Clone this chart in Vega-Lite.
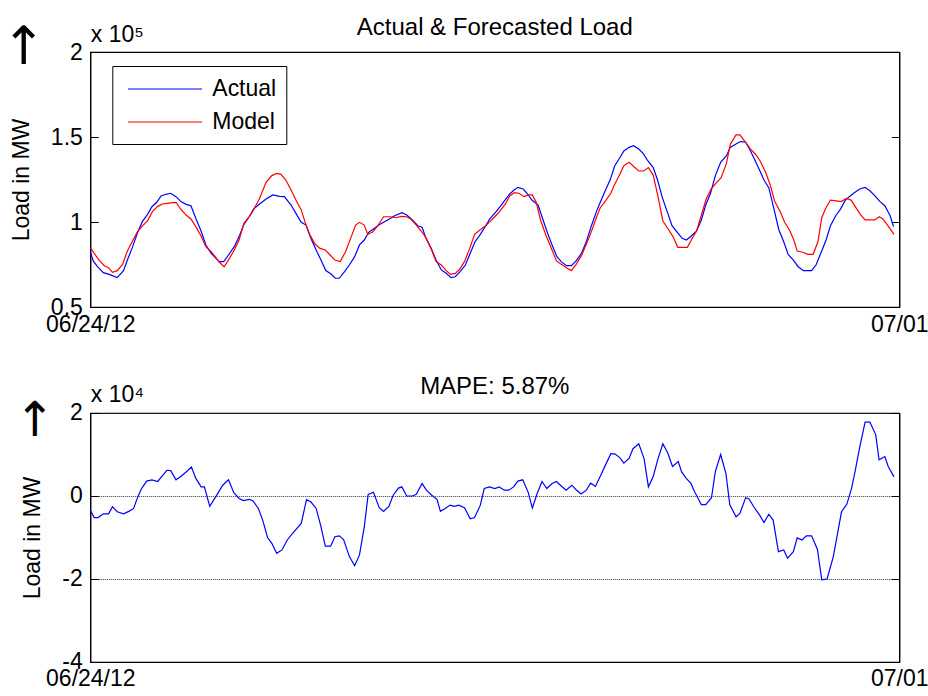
{
  "$schema": "https://vega.github.io/schema/vega-lite/v6.json",
  "background": "white",
  "padding": {"left": 0.3, "top": 15, "right": 0, "bottom": 0},
  "bounds": "flush",
  "config": {
    "font": "Liberation Sans",
    "view": {"stroke": "black", "strokeWidth": 1.2},
    "axis": {"labelFont": "Liberation Sans", "labelFontSize": 23, "labelColor": "black", "titleFont": "Liberation Sans", "titleFontSize": 23, "titleFontWeight": "normal", "titleColor": "black", "domainColor": "black", "tickColor": "black", "grid": false, "labelFlush": false, "labelOverlap": false},
    "title": {"font": "Liberation Sans", "fontSize": 24, "fontWeight": "normal", "color": "black"},
    "concat": {"spacing": 106}
  },
  "datasets": {
    "load": [
      {"t":0,"mw":82500,"series":"Actual"},{"t":0.6,"mw":77100,"series":"Actual"},{"t":1.5,"mw":73700,"series":"Actual"},{"t":2.7,"mw":70200,"series":"Actual"},{"t":3.9,"mw":69200,"series":"Actual"},{"t":5.6,"mw":67300,"series":"Actual"},{"t":6.9,"mw":71400,"series":"Actual"},{"t":7.7,"mw":77600,"series":"Actual"},{"t":8.8,"mw":85500,"series":"Actual"},{"t":9.8,"mw":93700,"series":"Actual"},{"t":10.8,"mw":100200,"series":"Actual"},{"t":11.9,"mw":104500,"series":"Actual"},{"t":12.8,"mw":109000,"series":"Actual"},{"t":13.8,"mw":111600,"series":"Actual"},{"t":14.7,"mw":115300,"series":"Actual"},{"t":15.7,"mw":116300,"series":"Actual"},{"t":16.7,"mw":116900,"series":"Actual"},{"t":17.8,"mw":114900,"series":"Actual"},{"t":18.8,"mw":112000,"series":"Actual"},{"t":19.9,"mw":110400,"series":"Actual"},{"t":20.9,"mw":109600,"series":"Actual"},{"t":21.9,"mw":102200,"series":"Actual"},{"t":23.0,"mw":94700,"series":"Actual"},{"t":24.0,"mw":86500,"series":"Actual"},{"t":25.1,"mw":81600,"series":"Actual"},{"t":26.1,"mw":78600,"series":"Actual"},{"t":26.8,"mw":76700,"series":"Actual"},{"t":27.7,"mw":76700,"series":"Actual"},{"t":28.7,"mw":80600,"series":"Actual"},{"t":29.9,"mw":85500,"series":"Actual"},{"t":30.9,"mw":91400,"series":"Actual"},{"t":31.9,"mw":98600,"series":"Actual"},{"t":33.0,"mw":103100,"series":"Actual"},{"t":34.0,"mw":108000,"series":"Actual"},{"t":35.1,"mw":110400,"series":"Actual"},{"t":36.5,"mw":113500,"series":"Actual"},{"t":37.9,"mw":115900,"series":"Actual"},{"t":39.3,"mw":115100,"series":"Actual"},{"t":40.3,"mw":114900,"series":"Actual"},{"t":41.7,"mw":110000,"series":"Actual"},{"t":42.7,"mw":105100,"series":"Actual"},{"t":43.8,"mw":99800,"series":"Actual"},{"t":44.8,"mw":98200,"series":"Actual"},{"t":45.8,"mw":90400,"series":"Actual"},{"t":46.9,"mw":83500,"series":"Actual"},{"t":47.9,"mw":77600,"series":"Actual"},{"t":48.9,"mw":71400,"series":"Actual"},{"t":50.0,"mw":69400,"series":"Actual"},{"t":50.9,"mw":66900,"series":"Actual"},{"t":51.7,"mw":66900,"series":"Actual"},{"t":52.8,"mw":70800,"series":"Actual"},{"t":53.8,"mw":74700,"series":"Actual"},{"t":54.9,"mw":79600,"series":"Actual"},{"t":55.9,"mw":86500,"series":"Actual"},{"t":56.9,"mw":89400,"series":"Actual"},{"t":57.8,"mw":93900,"series":"Actual"},{"t":58.8,"mw":95900,"series":"Actual"},{"t":59.9,"mw":98200,"series":"Actual"},{"t":61.1,"mw":100200,"series":"Actual"},{"t":62.1,"mw":101800,"series":"Actual"},{"t":63.1,"mw":103500,"series":"Actual"},{"t":64.7,"mw":105500,"series":"Actual"},{"t":65.7,"mw":104100,"series":"Actual"},{"t":66.9,"mw":101200,"series":"Actual"},{"t":68.0,"mw":97800,"series":"Actual"},{"t":68.9,"mw":96900,"series":"Actual"},{"t":69.7,"mw":90400,"series":"Actual"},{"t":70.8,"mw":84500,"series":"Actual"},{"t":71.8,"mw":77600,"series":"Actual"},{"t":72.9,"mw":71800,"series":"Actual"},{"t":73.9,"mw":69800,"series":"Actual"},{"t":74.9,"mw":67300,"series":"Actual"},{"t":75.8,"mw":67800,"series":"Actual"},{"t":76.8,"mw":70800,"series":"Actual"},{"t":77.9,"mw":74700,"series":"Actual"},{"t":78.9,"mw":81600,"series":"Actual"},{"t":79.9,"mw":88400,"series":"Actual"},{"t":81.0,"mw":92700,"series":"Actual"},{"t":82.0,"mw":97300,"series":"Actual"},{"t":83.0,"mw":102000,"series":"Actual"},{"t":84.1,"mw":105500,"series":"Actual"},{"t":85.1,"mw":109000,"series":"Actual"},{"t":86.0,"mw":112400,"series":"Actual"},{"t":87.1,"mw":116500,"series":"Actual"},{"t":88.0,"mw":118800,"series":"Actual"},{"t":88.8,"mw":120400,"series":"Actual"},{"t":89.9,"mw":119400,"series":"Actual"},{"t":90.7,"mw":116900,"series":"Actual"},{"t":91.7,"mw":112900,"series":"Actual"},{"t":93.0,"mw":110000,"series":"Actual"},{"t":93.9,"mw":102200,"series":"Actual"},{"t":94.9,"mw":93900,"series":"Actual"},{"t":95.9,"mw":86500,"series":"Actual"},{"t":96.9,"mw":79600,"series":"Actual"},{"t":97.8,"mw":76700,"series":"Actual"},{"t":98.9,"mw":74300,"series":"Actual"},{"t":99.9,"mw":74300,"series":"Actual"},{"t":100.9,"mw":77100,"series":"Actual"},{"t":102.0,"mw":81600,"series":"Actual"},{"t":103.0,"mw":88400,"series":"Actual"},{"t":104.0,"mw":97300,"series":"Actual"},{"t":105.1,"mw":106100,"series":"Actual"},{"t":106.1,"mw":112900,"series":"Actual"},{"t":107.0,"mw":118800,"series":"Actual"},{"t":108.0,"mw":125100,"series":"Actual"},{"t":108.9,"mw":133100,"series":"Actual"},{"t":109.9,"mw":137500,"series":"Actual"},{"t":110.8,"mw":141800,"series":"Actual"},{"t":111.9,"mw":143900,"series":"Actual"},{"t":112.8,"mw":144900,"series":"Actual"},{"t":113.9,"mw":142900,"series":"Actual"},{"t":114.8,"mw":140400,"series":"Actual"},{"t":115.8,"mw":135900,"series":"Actual"},{"t":116.9,"mw":132000,"series":"Actual"},{"t":117.8,"mw":124700,"series":"Actual"},{"t":118.8,"mw":114300,"series":"Actual"},{"t":119.8,"mw":106100,"series":"Actual"},{"t":120.8,"mw":97800,"series":"Actual"},{"t":121.9,"mw":93900,"series":"Actual"},{"t":122.9,"mw":90400,"series":"Actual"},{"t":123.8,"mw":89400,"series":"Actual"},{"t":124.8,"mw":91800,"series":"Actual"},{"t":125.9,"mw":94700,"series":"Actual"},{"t":126.9,"mw":101200,"series":"Actual"},{"t":127.8,"mw":110000,"series":"Actual"},{"t":128.8,"mw":116900,"series":"Actual"},{"t":129.8,"mw":127300,"series":"Actual"},{"t":130.9,"mw":135100,"series":"Actual"},{"t":132.1,"mw":139000,"series":"Actual"},{"t":132.9,"mw":143900,"series":"Actual"},{"t":134.0,"mw":145700,"series":"Actual"},{"t":135.0,"mw":147300,"series":"Actual"},{"t":136.1,"mw":146900,"series":"Actual"},{"t":137.0,"mw":142400,"series":"Actual"},{"t":138.0,"mw":136500,"series":"Actual"},{"t":138.9,"mw":131000,"series":"Actual"},{"t":139.9,"mw":124700,"series":"Actual"},{"t":140.9,"mw":120200,"series":"Actual"},{"t":141.9,"mw":108400,"series":"Actual"},{"t":143.0,"mw":95300,"series":"Actual"},{"t":144.0,"mw":88400,"series":"Actual"},{"t":144.9,"mw":81000,"series":"Actual"},{"t":146.0,"mw":77600,"series":"Actual"},{"t":147.0,"mw":73700,"series":"Actual"},{"t":148.1,"mw":71400,"series":"Actual"},{"t":149.8,"mw":71400,"series":"Actual"},{"t":150.7,"mw":74700,"series":"Actual"},{"t":151.7,"mw":81600,"series":"Actual"},{"t":152.8,"mw":89400,"series":"Actual"},{"t":153.7,"mw":97800,"series":"Actual"},{"t":154.8,"mw":103700,"series":"Actual"},{"t":155.8,"mw":107600,"series":"Actual"},{"t":156.7,"mw":112400,"series":"Actual"},{"t":157.6,"mw":114900,"series":"Actual"},{"t":158.8,"mw":117500,"series":"Actual"},{"t":159.8,"mw":119400,"series":"Actual"},{"t":160.9,"mw":120400,"series":"Actual"},{"t":161.9,"mw":118400,"series":"Actual"},{"t":162.9,"mw":115500,"series":"Actual"},{"t":164.0,"mw":112000,"series":"Actual"},{"t":165.0,"mw":109600,"series":"Actual"},{"t":166.1,"mw":103700,"series":"Actual"},{"t":166.8,"mw":97300,"series":"Actual"},
      {"t":0,"mw":84900,"series":"Model"},{"t":0.8,"mw":81600,"series":"Model"},{"t":1.8,"mw":77600,"series":"Model"},{"t":2.9,"mw":74300,"series":"Model"},{"t":3.8,"mw":73100,"series":"Model"},{"t":4.6,"mw":70400,"series":"Model"},{"t":5.6,"mw":71400,"series":"Model"},{"t":6.7,"mw":75100,"series":"Model"},{"t":7.7,"mw":82900,"series":"Model"},{"t":8.8,"mw":89000,"series":"Model"},{"t":9.8,"mw":94300,"series":"Model"},{"t":10.8,"mw":97600,"series":"Model"},{"t":11.9,"mw":100800,"series":"Model"},{"t":12.9,"mw":106100,"series":"Model"},{"t":14.0,"mw":109200,"series":"Model"},{"t":15.0,"mw":110600,"series":"Model"},{"t":16.0,"mw":111000,"series":"Model"},{"t":17.0,"mw":111400,"series":"Model"},{"t":17.8,"mw":111600,"series":"Model"},{"t":18.8,"mw":107500,"series":"Model"},{"t":19.9,"mw":104100,"series":"Model"},{"t":20.9,"mw":101800,"series":"Model"},{"t":21.9,"mw":97300,"series":"Model"},{"t":23.0,"mw":91800,"series":"Model"},{"t":24.0,"mw":85500,"series":"Model"},{"t":25.1,"mw":82500,"series":"Model"},{"t":26.1,"mw":79000,"series":"Model"},{"t":26.8,"mw":76300,"series":"Model"},{"t":27.8,"mw":73700,"series":"Model"},{"t":28.9,"mw":78600,"series":"Model"},{"t":29.9,"mw":83500,"series":"Model"},{"t":30.9,"mw":89400,"series":"Model"},{"t":31.9,"mw":99200,"series":"Model"},{"t":33.0,"mw":103100,"series":"Model"},{"t":33.7,"mw":106100,"series":"Model"},{"t":35.1,"mw":113500,"series":"Model"},{"t":36.5,"mw":123300,"series":"Model"},{"t":37.7,"mw":127300,"series":"Model"},{"t":38.7,"mw":128600,"series":"Model"},{"t":39.6,"mw":128000,"series":"Model"},{"t":40.6,"mw":124700,"series":"Model"},{"t":41.7,"mw":118800,"series":"Model"},{"t":42.7,"mw":112900,"series":"Model"},{"t":43.8,"mw":107100,"series":"Model"},{"t":44.8,"mw":98200,"series":"Model"},{"t":45.6,"mw":92400,"series":"Model"},{"t":46.7,"mw":86900,"series":"Model"},{"t":47.7,"mw":84500,"series":"Model"},{"t":48.8,"mw":83500,"series":"Model"},{"t":49.8,"mw":80600,"series":"Model"},{"t":50.8,"mw":77600,"series":"Model"},{"t":51.9,"mw":76700,"series":"Model"},{"t":53.0,"mw":82500,"series":"Model"},{"t":54.2,"mw":91400,"series":"Model"},{"t":55.1,"mw":98200,"series":"Model"},{"t":55.9,"mw":99800,"series":"Model"},{"t":56.9,"mw":98200,"series":"Model"},{"t":57.6,"mw":92700,"series":"Model"},{"t":58.7,"mw":94300,"series":"Model"},{"t":59.7,"mw":97800,"series":"Model"},{"t":60.9,"mw":103100,"series":"Model"},{"t":62.1,"mw":103100,"series":"Model"},{"t":63.5,"mw":102500,"series":"Model"},{"t":64.5,"mw":103300,"series":"Model"},{"t":65.7,"mw":103100,"series":"Model"},{"t":66.6,"mw":101600,"series":"Model"},{"t":67.7,"mw":98200,"series":"Model"},{"t":68.7,"mw":94700,"series":"Model"},{"t":69.7,"mw":90800,"series":"Model"},{"t":70.8,"mw":84100,"series":"Model"},{"t":71.8,"mw":76700,"series":"Model"},{"t":72.9,"mw":74700,"series":"Model"},{"t":73.9,"mw":71400,"series":"Model"},{"t":74.8,"mw":69200,"series":"Model"},{"t":75.8,"mw":69800,"series":"Model"},{"t":76.7,"mw":72200,"series":"Model"},{"t":77.7,"mw":76700,"series":"Model"},{"t":78.8,"mw":84500,"series":"Model"},{"t":79.8,"mw":92700,"series":"Model"},{"t":80.9,"mw":95300,"series":"Model"},{"t":81.9,"mw":97300,"series":"Model"},{"t":83.0,"mw":100200,"series":"Model"},{"t":84.1,"mw":103400,"series":"Model"},{"t":85.1,"mw":106500,"series":"Model"},{"t":86.2,"mw":110600,"series":"Model"},{"t":87.1,"mw":115300,"series":"Model"},{"t":88.1,"mw":117300,"series":"Model"},{"t":89.0,"mw":116900,"series":"Model"},{"t":90.1,"mw":114900,"series":"Model"},{"t":90.9,"mw":115900,"series":"Model"},{"t":91.8,"mw":115900,"series":"Model"},{"t":92.6,"mw":111600,"series":"Model"},{"t":93.5,"mw":101200,"series":"Model"},{"t":94.6,"mw":92400,"series":"Model"},{"t":95.7,"mw":84900,"series":"Model"},{"t":96.8,"mw":77100,"series":"Model"},{"t":97.8,"mw":75100,"series":"Model"},{"t":98.9,"mw":73100,"series":"Model"},{"t":99.9,"mw":71400,"series":"Model"},{"t":100.9,"mw":75100,"series":"Model"},{"t":102.0,"mw":80200,"series":"Model"},{"t":103.0,"mw":86900,"series":"Model"},{"t":104.0,"mw":93900,"series":"Model"},{"t":104.9,"mw":101200,"series":"Model"},{"t":105.9,"mw":108400,"series":"Model"},{"t":107.0,"mw":112400,"series":"Model"},{"t":108.1,"mw":116900,"series":"Model"},{"t":108.9,"mw":122200,"series":"Model"},{"t":109.9,"mw":127600,"series":"Model"},{"t":110.8,"mw":133100,"series":"Model"},{"t":111.9,"mw":135100,"series":"Model"},{"t":112.9,"mw":132500,"series":"Model"},{"t":113.9,"mw":130000,"series":"Model"},{"t":114.9,"mw":130000,"series":"Model"},{"t":115.9,"mw":132000,"series":"Model"},{"t":116.9,"mw":127600,"series":"Model"},{"t":117.9,"mw":114900,"series":"Model"},{"t":118.9,"mw":100600,"series":"Model"},{"t":120.0,"mw":95900,"series":"Model"},{"t":121.0,"mw":91400,"series":"Model"},{"t":122.0,"mw":85100,"series":"Model"},{"t":123.1,"mw":85100,"series":"Model"},{"t":124.0,"mw":85100,"series":"Model"},{"t":124.8,"mw":89400,"series":"Model"},{"t":125.9,"mw":94700,"series":"Model"},{"t":126.9,"mw":104100,"series":"Model"},{"t":127.9,"mw":113500,"series":"Model"},{"t":128.9,"mw":119400,"series":"Model"},{"t":129.9,"mw":122700,"series":"Model"},{"t":131.0,"mw":126100,"series":"Model"},{"t":132.1,"mw":134500,"series":"Model"},{"t":132.9,"mw":145700,"series":"Model"},{"t":134.1,"mw":151200,"series":"Model"},{"t":134.9,"mw":151200,"series":"Model"},{"t":136.1,"mw":146900,"series":"Model"},{"t":137.1,"mw":142900,"series":"Model"},{"t":138.1,"mw":140000,"series":"Model"},{"t":139.1,"mw":135900,"series":"Model"},{"t":140.2,"mw":129600,"series":"Model"},{"t":141.2,"mw":121800,"series":"Model"},{"t":142.1,"mw":112400,"series":"Model"},{"t":143.2,"mw":106500,"series":"Model"},{"t":144.2,"mw":99800,"series":"Model"},{"t":145.3,"mw":94700,"series":"Model"},{"t":146.1,"mw":89400,"series":"Model"},{"t":146.8,"mw":82900,"series":"Model"},{"t":148.0,"mw":82200,"series":"Model"},{"t":149.0,"mw":81000,"series":"Model"},{"t":150.1,"mw":81000,"series":"Model"},{"t":151.1,"mw":88400,"series":"Model"},{"t":151.9,"mw":102500,"series":"Model"},{"t":152.7,"mw":108000,"series":"Model"},{"t":153.7,"mw":112900,"series":"Model"},{"t":154.9,"mw":112400,"series":"Model"},{"t":155.9,"mw":112000,"series":"Model"},{"t":157.0,"mw":113900,"series":"Model"},{"t":158.0,"mw":112900,"series":"Model"},{"t":159.1,"mw":108000,"series":"Model"},{"t":159.9,"mw":104500,"series":"Model"},{"t":160.9,"mw":101200,"series":"Model"},{"t":161.9,"mw":101200,"series":"Model"},{"t":162.9,"mw":101200,"series":"Model"},{"t":163.8,"mw":103100,"series":"Model"},{"t":164.6,"mw":101800,"series":"Model"},{"t":165.7,"mw":97600,"series":"Model"},{"t":166.9,"mw":92700,"series":"Model"}
    ],
    "err": [
      {"t":0,"e":-3400},{"t":0.8,"e":-5200},{"t":1.6,"e":-5200},{"t":2.7,"e":-4300},{"t":3.8,"e":-4300},{"t":4.6,"e":-2600},{"t":5.6,"e":-3800},{"t":6.9,"e":-4300},{"t":8.0,"e":-3700},{"t":9.0,"e":-3000},{"t":9.8,"e":-400},{"t":10.6,"e":1700},{"t":11.7,"e":3600},{"t":12.8,"e":3900},{"t":14.0,"e":3500},{"t":14.9,"e":4800},{"t":15.9,"e":6200},{"t":16.7,"e":6100},{"t":17.8,"e":3900},{"t":18.8,"e":4700},{"t":19.9,"e":5800},{"t":21.0,"e":7000},{"t":21.9,"e":4300},{"t":23.0,"e":2200},{"t":23.7,"e":2200},{"t":24.8,"e":-2500},{"t":26.1,"e":-100},{"t":27.5,"e":2600},{"t":28.7,"e":3900},{"t":29.8,"e":800},{"t":30.9,"e":-600},{"t":31.8,"e":-1100},{"t":33.0,"e":-800},{"t":33.8,"e":-1200},{"t":34.9,"e":-3000},{"t":35.8,"e":-5800},{"t":36.8,"e":-10000},{"t":37.7,"e":-11400},{"t":38.7,"e":-13800},{"t":39.8,"e":-13000},{"t":40.9,"e":-10600},{"t":42.0,"e":-9000},{"t":43.8,"e":-6600},{"t":44.9,"e":-900},{"t":45.8,"e":-1400},{"t":46.9,"e":-3000},{"t":47.9,"e":-7400},{"t":48.8,"e":-12100},{"t":49.9,"e":-12100},{"t":50.8,"e":-9800},{"t":51.7,"e":-9600},{"t":52.6,"e":-10500},{"t":53.8,"e":-14600},{"t":54.9,"e":-16800},{"t":55.9,"e":-14200},{"t":56.9,"e":-7400},{"t":57.7,"e":400},{"t":58.8,"e":900},{"t":60.0,"e":-2800},{"t":60.9,"e":-3700},{"t":62.0,"e":-2500},{"t":62.9,"e":200},{"t":64.0,"e":1900},{"t":64.7,"e":2200},{"t":65.7,"e":0},{"t":66.9,"e":0},{"t":67.7,"e":400},{"t":68.9,"e":3000},{"t":69.8,"e":1400},{"t":70.9,"e":200},{"t":72.0,"e":-800},{"t":72.7,"e":-3700},{"t":73.7,"e":-3000},{"t":74.7,"e":-2200},{"t":75.6,"e":-2500},{"t":76.5,"e":-2200},{"t":77.7,"e":-2800},{"t":78.9,"e":-5500},{"t":79.8,"e":-5200},{"t":81.0,"e":-2200},{"t":81.8,"e":1800},{"t":82.9,"e":2200},{"t":84.0,"e":1800},{"t":84.9,"e":2200},{"t":86.0,"e":1400},{"t":86.9,"e":1400},{"t":87.9,"e":2200},{"t":88.8,"e":3600},{"t":89.8,"e":3900},{"t":90.9,"e":1000},{"t":91.8,"e":-2900},{"t":92.8,"e":600},{"t":93.8,"e":3500},{"t":94.8,"e":1800},{"t":95.9,"e":3000},{"t":96.8,"e":3500},{"t":97.8,"e":2400},{"t":98.8,"e":1400},{"t":100.0,"e":2600},{"t":100.9,"e":1500},{"t":101.9,"e":500},{"t":103.0,"e":1400},{"t":103.9,"e":3100},{"t":104.9,"e":2300},{"t":106.0,"e":5000},{"t":107.0,"e":7500},{"t":108.1,"e":10200},{"t":109.0,"e":10100},{"t":110.0,"e":9200},{"t":110.8,"e":7900},{"t":111.9,"e":9100},{"t":112.7,"e":11400},{"t":113.9,"e":12600},{"t":115.0,"e":9000},{"t":115.9,"e":2200},{"t":116.9,"e":4700},{"t":117.9,"e":9000},{"t":118.9,"e":12600},{"t":119.9,"e":10400},{"t":120.9,"e":7100},{"t":122.1,"e":8300},{"t":122.8,"e":5800},{"t":123.8,"e":4200},{"t":124.7,"e":3100},{"t":125.5,"e":1000},{"t":126.9,"e":-2100},{"t":127.8,"e":-2100},{"t":129.0,"e":-400},{"t":129.8,"e":5900},{"t":130.9,"e":10000},{"t":132.0,"e":5400},{"t":132.8,"e":-2100},{"t":134.1,"e":-5000},{"t":134.9,"e":-4200},{"t":136.1,"e":-400},{"t":136.8,"e":-700},{"t":138.0,"e":-3000},{"t":139.0,"e":-4600},{"t":139.9,"e":-6400},{"t":140.9,"e":-4400},{"t":141.8,"e":-5800},{"t":142.9,"e":-13400},{"t":144.0,"e":-13000},{"t":144.8,"e":-15000},{"t":146.0,"e":-13400},{"t":146.8,"e":-10100},{"t":147.8,"e":-10600},{"t":148.7,"e":-9600},{"t":149.8,"e":-9600},{"t":151.0,"e":-12900},{"t":151.9,"e":-20200},{"t":153.0,"e":-20000},{"t":154.3,"e":-14600},{"t":156.0,"e":-3800},{"t":157.1,"e":-2000},{"t":158.1,"e":1900},{"t":158.8,"e":5800},{"t":159.8,"e":11900},{"t":160.9,"e":17800},{"t":161.9,"e":17800},{"t":163.1,"e":14800},{"t":163.8,"e":8700},{"t":165.0,"e":9500},{"t":165.7,"e":7100},{"t":166.9,"e":4600}
    ]
  },
  "vconcat": [
    {
      "width": 809,
      "height": 255,
      "title": {"text": "Actual & Forecasted Load", "offset": -19},
      "data": {"name": "load"},
      "layer": [
        {
          "mark": {"type": "line", "strokeWidth": 1.2},
          "encoding": {
            "x": {"field": "t", "type": "quantitative", "scale": {"domain": [0, 168], "nice": false, "zero": false},
                  "axis": {"values": [0, 168], "labelExpr": "datum.value == 0 ? '06/24/12' : '07/01'", "title": null, "ticks": false, "labelPadding": 6}},
            "y": {"field": "mw", "type": "quantitative", "scale": {"domain": [50000, 200000], "nice": false, "zero": false},
                  "axis": {"values": [50000, 100000, 150000, 200000], "labelExpr": "toString(datum.value/100000)", "tickSize": -8, "labelPadding": 16,
                           "title": "Load in MW", "titlePadding": 17}},
            "color": {"field": "series", "type": "nominal", "scale": {"domain": ["Actual", "Model"], "range": ["#0000ff", "#ff0000"]},
                      "legend": {"title": null, "orient": "none", "legendX": 22, "legendY": 14, "strokeColor": "black", "fillColor": "white", "padding": 10, "symbolOffset": 5,
                                 "symbolType": "M-1,0H5", "symbolSize": 609, "symbolStrokeWidth": 1.2, "labelFontSize": 23, "labelFont": "Liberation Sans", "labelColor": "black", "labelOffset": 59, "rowPadding": 8}}
          }
        },
        {
          "mark": {"type": "point", "opacity": 0},
          "encoding": {
            "x": {"field": "t", "type": "quantitative", "axis": {"orient": "top", "labels": false, "ticks": false, "domain": false, "title": "x 10\u2075", "titleAnchor": "start", "titleAlign": "left", "titleBaseline": "alphabetic", "titlePadding": 11}},
            "y": {"field": "mw", "type": "quantitative", "axis": {"orient": "right", "values": [50000, 100000, 150000, 200000], "labels": false, "tickSize": -8,
                  "title": "\u2191", "titleFont": "DejaVu Sans", "titleFontSize": 53, "titleAngle": 0, "titleAlign": "center", "titleBaseline": "middle", "titleX": -876, "titleY": -5}}
          }
        }
      ],
      "resolve": {"axis": {"x": "independent", "y": "independent"}}
    },
    {
      "width": 809,
      "height": 249,
      "title": {"text": "MAPE: 5.87%", "offset": -15},
      "data": {"name": "err"},
      "layer": [
        {
          "mark": {"type": "line", "strokeWidth": 1.2, "color": "#0000ff"},
          "encoding": {
            "x": {"field": "t", "type": "quantitative", "scale": {"domain": [0, 168], "nice": false, "zero": false},
                  "axis": {"values": [0, 168], "labelExpr": "datum.value == 0 ? '06/24/12' : '07/01'", "title": null, "ticks": false, "labelPadding": 6}},
            "y": {"field": "e", "type": "quantitative", "scale": {"domain": [-40000, 20000], "nice": false, "zero": false},
                  "axis": {"values": [-40000, -20000, 0, 20000], "labelExpr": "toString(datum.value/10000)", "tickSize": -8, "labelPadding": 16,
                           "grid": true, "gridColor": "#333333", "gridDash": [1, 1], "gridWidth": 1,
                           "title": "Load in MW", "titlePadding": 17}}
          }
        },
        {
          "mark": {"type": "point", "opacity": 0},
          "encoding": {
            "x": {"field": "t", "type": "quantitative", "axis": {"orient": "top", "labels": false, "ticks": false, "domain": false, "title": "x 10\u2074", "titleAnchor": "start", "titleAlign": "left", "titleBaseline": "alphabetic", "titlePadding": 11}},
            "y": {"field": "e", "type": "quantitative", "axis": {"orient": "right", "values": [-40000, -20000, 0, 20000], "labels": false, "tickSize": -8,
                  "title": "\u2191", "titleFont": "DejaVu Sans", "titleFontSize": 48, "titleAngle": 0, "titleAlign": "center", "titleBaseline": "middle", "titleX": -865, "titleY": 9}}
          }
        }
      ],
      "resolve": {"axis": {"x": "independent", "y": "independent"}}
    }
  ]
}
